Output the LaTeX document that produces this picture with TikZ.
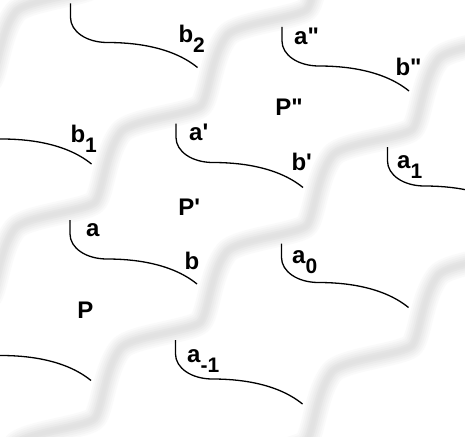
\documentclass[tikz,border=0pt]{standalone}
\usepackage{fontspec}
\setmainfont{Liberation Sans}
\newfontfamily\labfont{Liberation Sans}[Ligatures=TeXOff]
\newcommand\subsc[1]{\raisebox{-10pt}{\fontsize{21}{21}\selectfont #1}}
\tikzset{
  band/.style={line cap=round, line join=round, draw=gray!4, line width=24pt,
    postaction={draw=gray!8, line width=20pt},
    postaction={draw=gray!12, line width=16pt},
    postaction={draw=gray!16, line width=12pt},
    postaction={draw=gray!20, line width=8pt},
    postaction={draw=gray!23, line width=4pt}},
  curv/.style={draw=black, line width=1.3pt},
  lab/.style={font=\labfont\bfseries\fontsize{24}{24}\selectfont, inner sep=0pt, anchor=base west, text=black}
}
\newcommand\tilecurve[1]{\draw[curv] (#1) -- ++(0,14) .. controls +(0,14) and +(-21,0) .. ++(37,25) .. controls +(23,0) and +(-27,-22) .. ++(90,25);}
\newcommand\bandpath[1]{\draw[band] (#1) \foreach \k in {1,...,8} { .. controls +(8,-9) and +(-16,20) .. ++(26,-70) .. controls +(10,-12.5) and +(-9,9) .. ++(80,-26.5) };}
\begin{document}
\begin{tikzpicture}[x=1pt,y=-1pt]
\useasboundingbox (0,0) rectangle (465,436);
\fill[white] (0,0) rectangle (465,436);
\clip (0,0) rectangle (465,436);
% shadow bands (start knees)
\coordinate (k1) at (-434.5,468);
\coordinate (k2) at (-223,491.5);
\coordinate (k3) at (-11.5,515);
\coordinate (k4) at (200,538.5);
\bandpath{k1}
\bandpath{k2}
\bandpath{k3}
\bandpath{k4}
% curve starting points
\coordinate (c1) at (70.5,3.5);
\coordinate (c2) at (282,27);
\coordinate (c3) at (-35.5,100);
\coordinate (c4) at (176,123.5);
\coordinate (c5) at (387.5,147);
\coordinate (c6) at (70,220);
\coordinate (c7) at (281.5,243.5);
\coordinate (c8) at (-36,316.5);
\coordinate (c9) at (175.5,340);
\tilecurve{c1}
\tilecurve{c2}
\tilecurve{c3}
\tilecurve{c4}
\tilecurve{c5}
\tilecurve{c6}
\tilecurve{c7}
\tilecurve{c8}
\tilecurve{c9}
% labels
\node[lab] (lb2) at (178.3,42) {b\subsc{2}};
\node[lab] (la2) at (294,45) {a"};
\node[lab] (lbb2) at (395.3,75) {b"};
\node[lab] (lP2) at (275.2,115) {P"};
\node[lab] (lb1) at (70.3,142) {b\subsc{1}};
\node[lab] (la1p) at (189,140) {a'};
\node[lab] (lbp) at (291.3,170) {b'};
\node[lab] (la1) at (397,168) {a\subsc{1}};
\node[lab] (lPp) at (178.2,215) {P'};
\node[lab] (la) at (86,236) {a};
\node[lab] (lb) at (184.3,269) {b};
\node[lab] (la0) at (292,263) {a\subsc{0}};
\node[lab] (lP) at (77.2,318) {P};
\node[lab] (lam) at (187,362) {a\subsc{-1}};
\end{tikzpicture}
\end{document}
